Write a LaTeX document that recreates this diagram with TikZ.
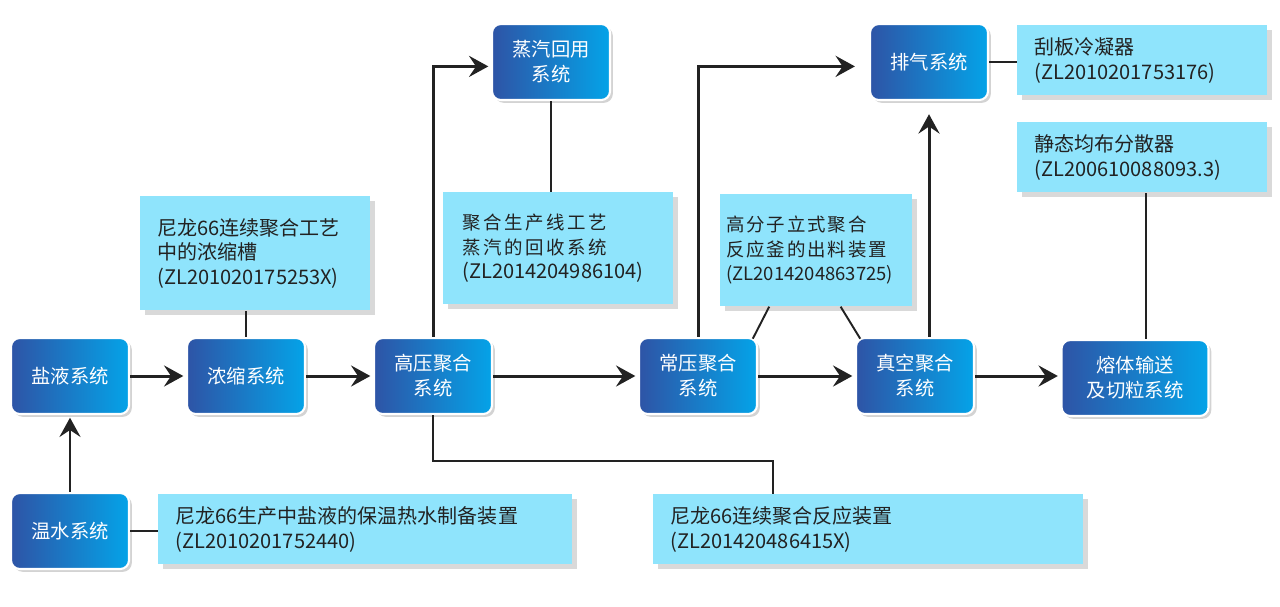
\documentclass[tikz,border=0pt]{standalone}
\usepackage{fontspec}
\setmainfont{Noto Sans CJK SC}
\usetikzlibrary{arrows.meta,shadows}
\definecolor{sysdark}{RGB}{46,84,166}
\definecolor{syslight}{RGB}{4,163,232}
\definecolor{notecyan}{RGB}{143,228,252}
\definecolor{inkgray}{RGB}{34,34,34}

\begin{document}
\begin{tikzpicture}[x=0.02cm,y=-0.02cm]
  \tikzstyle{system}=[rectangle, rounded corners=5pt, left color=sysdark, right color=syslight,
draw=white, line width=1.2pt, text=white, font=\fontsize{11}{14.2}\selectfont, align=center,
minimum width=2.36cm, minimum height=1.52cm,
drop shadow={shadow xshift=1.6pt, shadow yshift=-1.6pt, opacity=0.35}]
  \tikzstyle{patent}=[rectangle, fill=notecyan, text=inkgray, font=\fontsize{11.4}{14}\selectfont,
align=left, anchor=north west, inner xsep=0.34cm, inner ysep=0pt,
drop shadow={shadow xshift=2.5pt, shadow yshift=-2.5pt, opacity=0.3}]
  \tikzstyle{flow}=[line width=1.7pt, inkgray, -{Stealth[length=11pt, width=12pt, inset=4pt]}, shorten >=1.5pt]
  \tikzstyle{link}=[line width=1.1pt, inkgray]
  \useasboundingbox (0,0) rectangle (1280,606);

  \node[system] (S_1) at (70,376)   {盐液系统};
  \node[system] (S_2) at (246,376)  {浓缩系统};
  \node[system] (S_3) at (433,376)  {高压聚合\\系统};
  \node[system] (S_4) at (551,62)   {蒸汽回用\\系统};
  \node[system] (S_5) at (698,376)  {常压聚合\\系统};
  \node[system] (S_6) at (915,376)  {真空聚合\\系统};
  \node[system, minimum width=2.94cm] (S_7) at (1135,378) {熔体输送\\及切粒系统};
  \node[system] (S_8) at (70,531)   {温水系统};
  \node[system] (S_9) at (929,62)   {排气系统};

  \node[patent, text width=3.92cm, minimum height=2.28cm] (P_1) at (140,196)
    {尼龙66连续聚合工艺\\中的浓缩槽\\(ZL201020175253X)};
  \node[patent, text width=3.84cm, minimum height=2.24cm, inner xsep=0.38cm, font=\fontsize{10.5}{14}\selectfont] (P_2) at (443,192)
    {{\addfontfeature{LetterSpace=14}聚合生产线工艺}\\{\addfontfeature{LetterSpace=14}蒸汽的回收系统}\\{\fontsize{11.4}{14}\selectfont(ZL2014204986104)}};
  \node[patent, text width=3.6cm, minimum height=2.24cm, inner xsep=0.12cm, font=\fontsize{10.5}{14}\selectfont] (P_3) at (720,194)
    {{\addfontfeature{LetterSpace=10}高分子立式聚合}\\{\addfontfeature{LetterSpace=10}反应釜的出料装置}\\(ZL2014204863725)};
  \node[patent, text width=4.32cm, minimum height=1.4cm] (P_4) at (1017,25)
    {刮板冷凝器\\(ZL2010201753176)};
  \node[patent, text width=4.32cm, minimum height=1.4cm] (P_5) at (1017,122)
    {静态均布分散器\\(ZL200610088093.3)};
  \node[patent, text width=7.6cm, minimum height=1.4cm] (P_6) at (158,494)
    {尼龙66生产中盐液的保温热水制备装置\\(ZL2010201752440)};
  \node[patent, text width=7.92cm, minimum height=1.4cm] (P_7) at (653,494)
    {尼龙66连续聚合反应装置\\(ZL201420486415X)};

  \coordinate (bend) at (773,461);

  % main line
  \draw[flow] (S_1) -- (S_2);
  \draw[flow] (S_2) -- (S_3);
  \draw[flow] (S_3) -- (S_5);
  \draw[flow] (S_5) -- (S_6);
  \draw[flow] (S_6.east) -- (S_6.east -| S_7.west);
  \draw[flow] (S_8) -- (S_1);
  \draw[flow] (S_3.north) |- ([yshift=-2.5pt]S_4.west);
  \draw[flow, shorten >=8pt] (S_5.north) |- ([yshift=-2.5pt]S_9.west);
  \draw[flow, shorten >=7.5pt] (S_9.south |- S_6.north) -- (S_9.south);

  % patents
  \draw[link] (S_2.north) -- (S_2.north |- P_1.south);
  \draw[link] (S_4.south) -- (S_4.south |- P_2.north);
  \draw[link] ([xshift=28pt]P_3.south west) -- ([xshift=-3pt,yshift=-1pt]S_5.north east);
  \draw[link] ([xshift=-41pt]P_3.south east) -- ([xshift=3pt,yshift=-1pt]S_6.north west);
  \draw[link] (S_9.east) -- (S_9.east -| P_4.west);
  \draw[link] ([xshift=6pt]S_7.north) -- ([xshift=6pt]S_7.north |- P_5.south);
  \draw[link] (S_8.east) -- (S_8.east -| P_6.west);
  \draw[link] (S_3.south) |- (bend) -- (bend |- P_7.north);
\end{tikzpicture}
\end{document}
